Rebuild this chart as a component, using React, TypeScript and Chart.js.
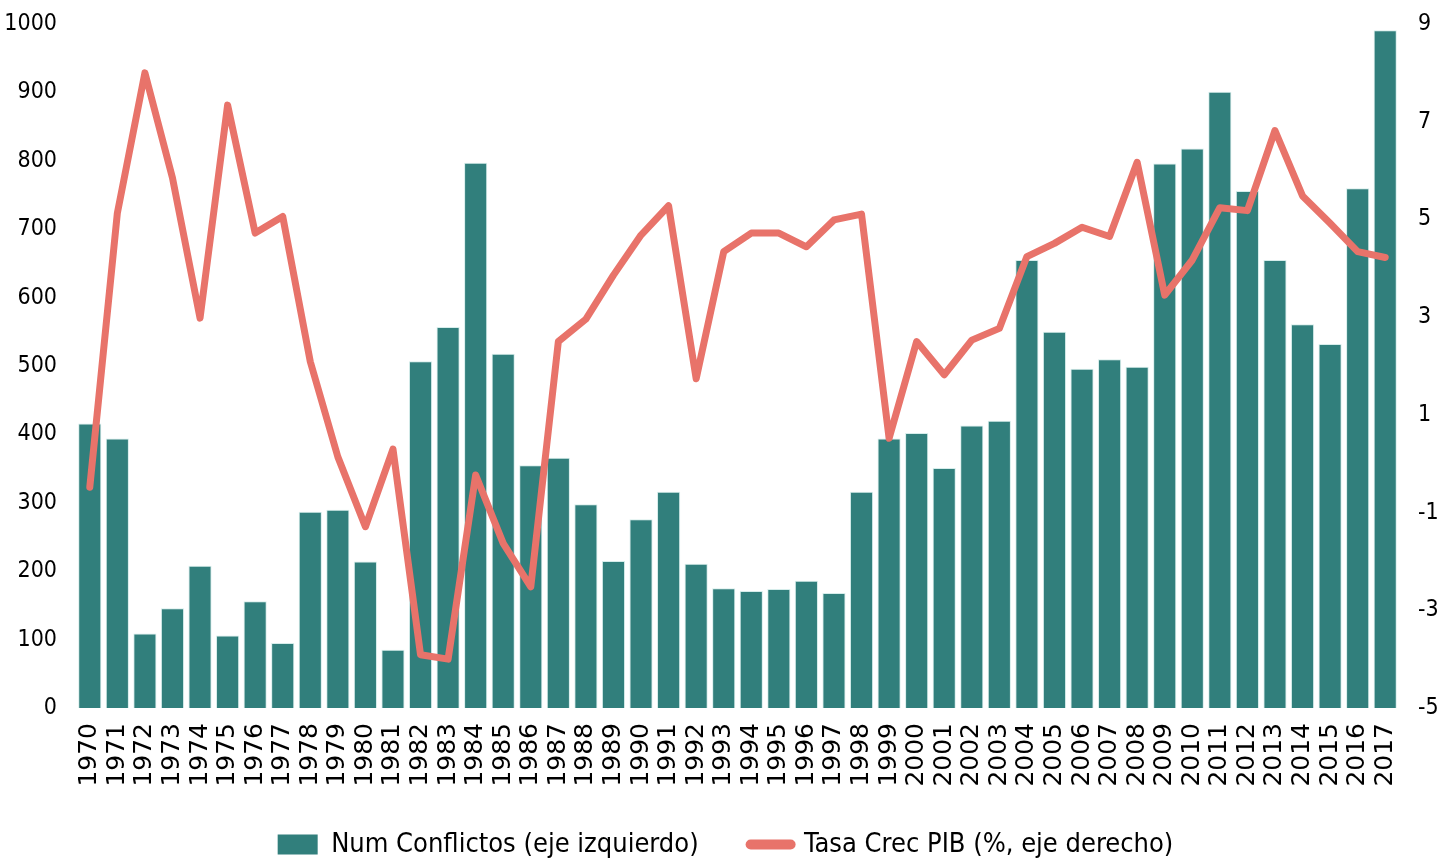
import React, { useEffect, useRef } from "react";
import { Chart, registerables } from "chart.js";

Chart.register(...registerables);

const years: string[] = [
  "1970", "1971", "1972", "1973", "1974", "1975", "1976", "1977", "1978", "1979",
  "1980", "1981", "1982", "1983", "1984", "1985", "1986", "1987", "1988", "1989",
  "1990", "1991", "1992", "1993", "1994", "1995", "1996", "1997", "1998", "1999",
  "2000", "2001", "2002", "2003", "2004", "2005", "2006", "2007", "2008", "2009",
  "2010", "2011", "2012", "2013", "2014", "2015", "2016", "2017",
];

const conflicts: number[] = [
  416, 394, 109, 146, 208, 106, 156, 95, 287, 290,
  214, 85, 507, 557, 797, 518, 355, 366, 298, 215,
  276, 316, 211, 175, 171, 174, 186, 168, 316, 394,
  402, 351, 413, 420, 655, 550, 496, 510, 499, 796,
  818, 901, 756, 655, 561, 532, 760, 991,
];

const gdpGrowth: number[] = [
  -0.48, 5.13, 8.0, 5.85, 2.98, 7.34, 4.72, 5.06, 2.09, 0.14,
  -1.29, 0.3, -3.91, -4.0, -0.23, -1.63, -2.52, 2.5, 2.96, 3.86,
  4.68, 5.28, 1.74, 4.34, 4.72, 4.72, 4.44, 4.99, 5.11, 0.52,
  2.5, 1.82, 2.53, 2.77, 4.24, 4.51, 4.84, 4.65, 6.17, 3.45,
  4.17, 5.24, 5.18, 6.82, 5.48, 4.92, 4.34, 4.22,
];

const leftTicks = { min: 0, max: 1000, step: 100 };
const rightTicks = { min: -5, max: 9, step: 2 };

const barLabel = "Num Conflictos (eje izquierdo)";
const lineLabel = "Tasa Crec PIB (%, eje derecho)";

const BAR_COLOR = "#317f7c";
const BAR_EDGE = "rgba(210,235,233,0.9)";
const LINE_COLOR = "#e8736a";
const NARROW = "'Liberation Sans Narrow', 'Arial Narrow', 'DejaVu Sans Condensed', sans-serif";
const WIDE = "'DejaVu Sans', 'Liberation Sans', sans-serif";

const LEGEND_HEIGHT = 88;
const XAXIS_HEIGHT = 71;

const legendFitPlugin = {
  id: "legendFit",
  beforeLayout(chart: any) {
    const legend = chart.legend;
    if (legend && !legend._fitPatched) {
      const orig = legend.fit;
      legend.fit = function () {
        orig.call(this);
        this.height = LEGEND_HEIGHT;
      };
      legend._fitPatched = true;
    }
  },
};

export default function App() {
  const canvasRef = useRef<HTMLCanvasElement | null>(null);

  useEffect(() => {
    if (!canvasRef.current) return;
    const chart = new Chart(canvasRef.current, {
      type: "bar",
      data: {
        labels: years,
        datasets: [
          {
            type: "bar",
            label: barLabel,
            data: conflicts,
            backgroundColor: BAR_COLOR,
            borderColor: BAR_EDGE,
            borderWidth: 1,
            categoryPercentage: 1,
            barPercentage: 0.84,
            yAxisID: "y",
            order: 1,
          },
          {
            type: "line",
            label: lineLabel,
            data: gdpGrowth,
            borderColor: LINE_COLOR,
            backgroundColor: LINE_COLOR,
            borderWidth: 7,
            pointRadius: 0,
            pointHoverRadius: 0,
            tension: 0,
            fill: false,
            borderCapStyle: "round",
            borderJoinStyle: "round",
            yAxisID: "y1",
            order: 0,
          },
        ] as any,
      },
      options: {
        responsive: false,
        animation: false,
        layout: { padding: { top: 24, left: 0, right: 0, bottom: 0 } },
        plugins: {
          tooltip: { enabled: false },
          legend: {
            position: "bottom",
            labels: {
              usePointStyle: true,
              pointStyleWidth: 40,
              boxHeight: 20,
              padding: 52,
              color: "#000",
              font: { family: NARROW, size: 27 },
              generateLabels: () => [
                {
                  text: barLabel,
                  fillStyle: BAR_COLOR,
                  strokeStyle: BAR_COLOR,
                  lineWidth: 0,
                  pointStyle: "rect",
                  datasetIndex: 0,
                  hidden: false,
                  fontColor: "#000",
                } as any,
                {
                  text: lineLabel,
                  fillStyle: LINE_COLOR,
                  strokeStyle: LINE_COLOR,
                  lineWidth: 10,
                  lineCap: "round",
                  pointStyle: "line",
                  datasetIndex: 1,
                  hidden: false,
                  fontColor: "#000",
                } as any,
              ],
            },
          },
        },
        scales: {
          x: {
            grid: { display: false, drawTicks: false },
            border: { display: false },
            ticks: {
              autoSkip: false,
              minRotation: 90,
              maxRotation: 90,
              padding: 15,
              color: "#000",
              font: { family: WIDE, size: 25 },
            },
            afterFit: (scale: any) => {
              scale.height = XAXIS_HEIGHT;
              scale._computeLabelArea = () => undefined;
            },
          },
          y: {
            position: "left",
            min: leftTicks.min,
            max: leftTicks.max,
            grid: { display: false, drawTicks: false },
            border: { display: false },
            ticks: {
              stepSize: leftTicks.step,
              padding: 19,
              color: "#000",
              font: { family: NARROW, size: 23 },
              callback: (v: any) => String(v),
            },
            afterFit: (scale: any) => {
              scale.width = 76;
              scale.paddingTop = 0;
              scale.paddingBottom = 0;
            },
          },
          y1: {
            position: "right",
            min: rightTicks.min,
            max: rightTicks.max,
            grid: { display: false, drawTicks: false },
            border: { display: false },
            ticks: {
              stepSize: rightTicks.step,
              padding: 19,
              color: "#000",
              font: { family: NARROW, size: 23 },
              callback: (v: any) => String(v),
            },
            afterFit: (scale: any) => {
              scale.width = 52;
              scale.paddingTop = 0;
              scale.paddingBottom = 0;
            },
          },
        },
      } as any,
      plugins: [legendFitPlugin],
    });
    return () => chart.destroy();
  }, []);

  return (
    <div style={{ position: "absolute", left: 0, top: 0, width: 1451, height: 867, background: "#fff" }}>
      <canvas ref={canvasRef} width={1451} height={867} style={{ display: "block" }} />
    </div>
  );
}
